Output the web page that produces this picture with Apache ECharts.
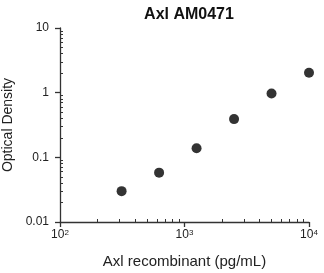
<!DOCTYPE html>
<html>
<head>
<meta charset="utf-8">
<style>
  html, body { margin: 0; padding: 0; background: #fff; }
  #chart { width: 324px; height: 273px; }
</style>
<script src="https://cdn.jsdelivr.net/npm/echarts@6/dist/echarts.min.js"></script>
</head>
<body>
<div id="chart"></div>
<script>
// Axl recombinant standard curve
var concentrations = [312.5, 625, 1250, 2500, 5000, 10000];
var opticalDensity = [0.030, 0.058, 0.138, 0.39, 0.97, 2.03];

var xMajorTicks = [100, 1000, 10000];
var xMinorTicks = [200, 300, 400, 500, 600, 700, 800, 900,
  2000, 3000, 4000, 5000, 6000, 7000, 8000, 9000];
var yMajorTicks = [0.01, 0.1, 1, 10];
var yMinorTicks = [0.02, 0.03, 0.04, 0.05, 0.06, 0.07, 0.08, 0.09,
  0.2, 0.3, 0.4, 0.5, 0.6, 0.7, 0.8, 0.9,
  2, 3, 4, 5, 6, 7, 8, 9];
var xExponents = { 100: '2', 1000: '3', 10000: '4' };

var font = 'Liberation Sans, Arial, sans-serif';
var myChart = echarts.init(document.getElementById('chart'));

var option = {
  animation: false,
  title: {
    text: 'Axl AM0471',
    left: 184,
    top: 2,
    textAlign: 'center',
    textStyle: { fontFamily: font, fontSize: 16, fontWeight: 'bold', color: '#111' }
  },
  grid: { left: 60, right: 15, top: 28, bottom: 51, outerBoundsMode: 'none', containLabel: false },
  xAxis: [
    {
      type: 'log',
      logBase: 10,
      min: 100,
      max: 10000,
      name: 'Axl recombinant (pg/mL)',
      nameLocation: 'middle',
      nameGap: 32,
      nameTextStyle: { fontFamily: font, fontSize: 15, color: '#222' },
      axisLine: { lineStyle: { color: '#333', width: 1.3 } },
      axisTick: { customValues: xMajorTicks, length: 5, lineStyle: { color: '#333', width: 1.3 } },
      axisLabel: {
        customValues: xMajorTicks,
        margin: 7,
        color: '#222',
        formatter: function (v) {
          return '{b|10}{s|' + xExponents[Math.round(v)] + '}';
        },
        rich: {
          b: { fontFamily: font, fontSize: 12, color: '#222' },
          s: { fontFamily: font, fontSize: 8, color: '#222', verticalAlign: 'top', padding: [0, 0, 4, 0] }
        }
      },
      splitLine: { show: false }
    },
    {
      type: 'log',
      logBase: 10,
      min: 100,
      max: 10000,
      position: 'bottom',
      axisLine: { show: false },
      axisTick: { customValues: xMinorTicks, inside: true, length: 3, lineStyle: { color: '#333', width: 1 } },
      axisLabel: { show: false },
      splitLine: { show: false }
    }
  ],
  yAxis: [
    {
      type: 'log',
      logBase: 10,
      min: 0.01,
      max: 10,
      name: 'Optical Density',
      nameLocation: 'middle',
      nameGap: 43,
      nameTextStyle: { fontFamily: font, fontSize: 14, color: '#222' },
      axisLine: { show: true, lineStyle: { color: '#333', width: 1.3 } },
      axisTick: { show: true, customValues: yMajorTicks, length: 5, lineStyle: { color: '#333', width: 1.3 } },
      axisLabel: {
        customValues: yMajorTicks,
        margin: 11,
        fontFamily: font,
        fontSize: 12,
        color: '#222',
        formatter: function (v) { return String(+v.toPrecision(2)); }
      },
      splitLine: { show: false }
    },
    {
      type: 'log',
      logBase: 10,
      min: 0.01,
      max: 10,
      position: 'left',
      axisLine: { show: false },
      axisTick: { show: true, customValues: yMinorTicks, inside: true, length: 3, lineStyle: { color: '#333', width: 1 } },
      axisLabel: { show: false },
      splitLine: { show: false }
    }
  ],
  series: [
    {
      type: 'scatter',
      symbol: 'circle',
      symbolSize: 10,
      itemStyle: { color: '#000' },
      data: concentrations.map(function (c, i) { return [c, opticalDensity[i]]; })
    }
  ]
};

option && myChart.setOption(option);
window.addEventListener('resize', function () {
  myChart.resize();
});
</script>
</body>
</html>
